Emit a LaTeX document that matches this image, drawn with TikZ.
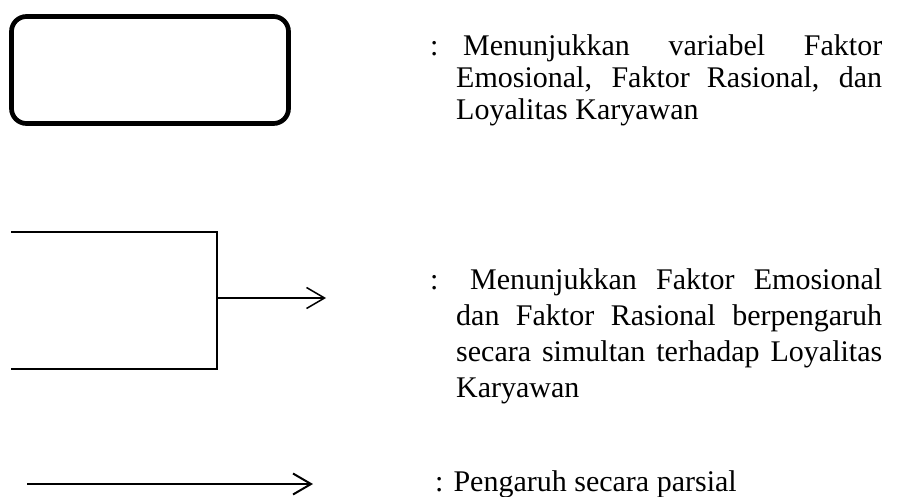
\documentclass[tikz,border=0pt]{standalone}
\usepackage{fontspec}
\setmainfont{Liberation Serif}
\usetikzlibrary{arrows.meta}

\tikzset{
	varbox/.style={draw, rounded corners=15pt, line width=4.7pt, minimum width=277pt, minimum height=107pt, inner sep=0pt},
	ket/.style={inner sep=0pt, anchor=base west, text width=426pt, align=justify},
	barb/.style={-{Straight Barb[length=18pt, width=21pt]}}
}

\begin{document}
\begin{tikzpicture}[x=1pt, y=-1pt]
	\useasboundingbox (0,0) rectangle (907,497);

	% variabel
	\node[varbox] (var) at (150,70) {};
	\node[ket, font=\fontsize{30}{32}\selectfont] (ketvar) at (456,55.5) {\llap{\makebox[26pt][l]{:}}\hspace*{7pt}Menunjukkan variabel Faktor\linebreak Emosional, Faktor Rasional, dan\linebreak Loyalitas Karyawan};

	% simultan
	\coordinate (a) at (11,232);
	\coordinate (b) at (217,232);
	\coordinate (c) at (217,369);
	\coordinate (d) at (11,369);
	\coordinate (m) at (217,298);
	\coordinate (e) at (326,298);
	\draw[line width=1.5pt] (a) -- (b) -- (c) -- (d);
	\draw[line width=1.5pt, barb] (m) -- (e);
	\node[ket, font=\fontsize{30}{36}\selectfont] (ketsim) at (456,289) {\llap{\makebox[26pt][l]{:}}\hspace*{14pt}Menunjukkan Faktor Emosional\linebreak dan Faktor Rasional berpengaruh\linebreak secara simultan terhadap Loyalitas\linebreak Karyawan};

	% parsial
	\coordinate (p) at (27,484);
	\coordinate (q) at (313,484);
	\draw[line width=2pt, barb] (p) -- (q);
	\node[inner sep=0pt, anchor=base west, font=\fontsize{30}{32}\selectfont] (ketpar) at (435,491) {: Pengaruh secara parsial};
\end{tikzpicture}
\end{document}
